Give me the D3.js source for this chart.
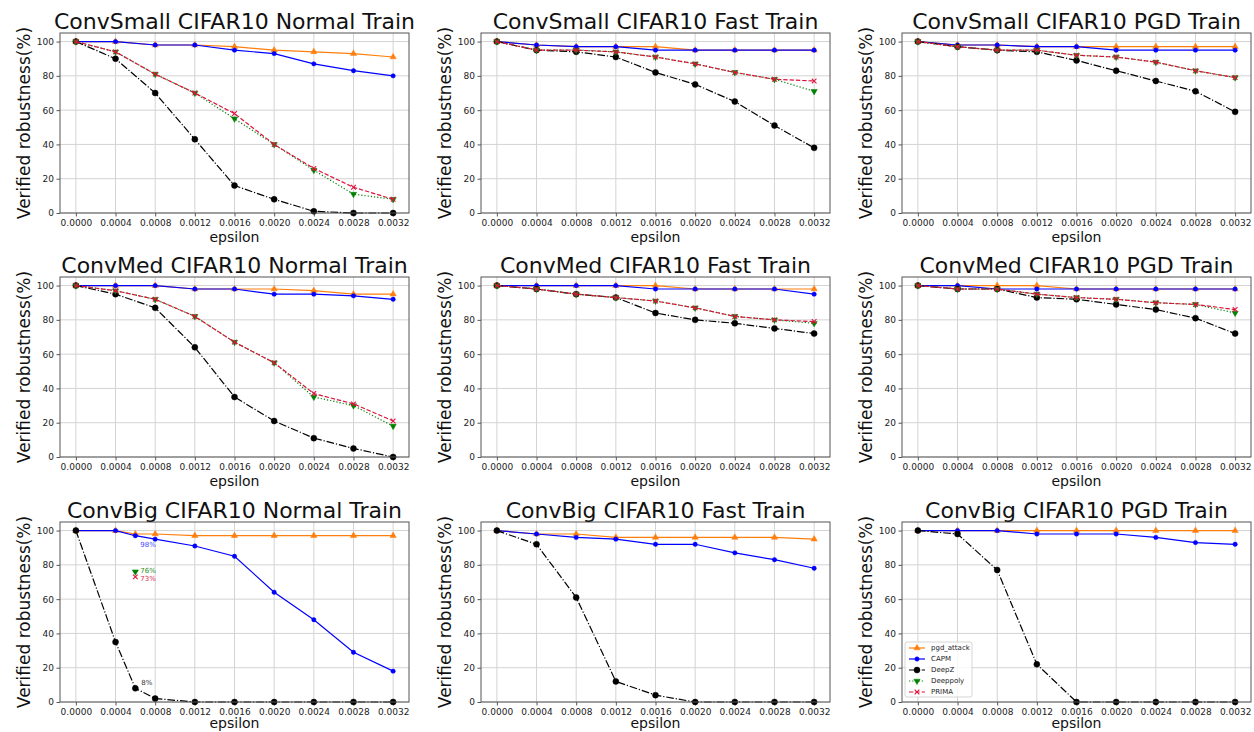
<!DOCTYPE html>
<html>
<head>
<meta charset="utf-8">
<script src="https://cdn.jsdelivr.net/npm/d3@7"></script>
<style>
  body { margin: 0; background: #fff; }
  svg { display: block; font-family: 'DejaVu Sans', sans-serif; }
</style>
</head>
<body>
<svg class="stage" width="1254" height="732"></svg>
<script>
var epsilons = [0, 0.0004, 0.0008, 0.0012, 0.0016, 0.0020, 0.0024, 0.0028, 0.0032];
// ConvBig normal train has one extra point at 0.0006
var epsilonsBigNormal = [0, 0.0004, 0.0006, 0.0008, 0.0012, 0.0016, 0.0020, 0.0024, 0.0028, 0.0032];
var xTickLabels = ['0.0000', '0.0004', '0.0008', '0.0012', '0.0016', '0.0020', '0.0024', '0.0028', '0.0032'];
var yTicks = [0, 20, 40, 60, 80, 100];
var methods = ['pgd_attack', 'CAPM', 'DeepZ', 'Deeppoly', 'PRIMA'];

var titles = [
  'ConvSmall CIFAR10 Normal Train', 'ConvSmall CIFAR10 Fast Train', 'ConvSmall CIFAR10 PGD Train',
  'ConvMed CIFAR10 Normal Train', 'ConvMed CIFAR10 Fast Train', 'ConvMed CIFAR10 PGD Train',
  'ConvBig CIFAR10 Normal Train', 'ConvBig CIFAR10 Fast Train', 'ConvBig CIFAR10 PGD Train'
];

// one row per panel, same order as titles (null = not run)
var pgdAttack = [
  [100, 100, 98, 98, 97, 95, 94, 93, 91],
  [100, 98, 97, 97, 97, 95, 95, 95, 95],
  [100, 98, 98, 97, 97, 97, 97, 97, 97],
  [100, 100, 100, 98, 98, 98, 97, 95, 95],
  [100, 100, 100, 100, 100, 98, 98, 98, 98],
  [100, 100, 100, 100, 98, 98, 98, 98, 98],
  [100, 100, 98, 98, 97, 97, 97, 97, 97, 97],
  [100, 98, 98, 96, 96, 96, 96, 96, 95],
  [100, 100, 100, 100, 100, 100, 100, 100, 100]
];

var capm = [
  [100, 100, 98, 98, 95, 93, 87, 83, 80],
  [100, 98, 97, 97, 95, 95, 95, 95, 95],
  [100, 98, 98, 97, 97, 95, 95, 95, 95],
  [100, 100, 100, 98, 98, 95, 95, 94, 92],
  [100, 100, 100, 100, 98, 98, 98, 98, 95],
  [100, 100, 98, 98, 98, 98, 98, 98, 98],
  [100, 100, 97, 95, 91, 85, 64, 48, 29, 18],
  [100, 98, 96, 95, 92, 92, 87, 83, 78],
  [100, 100, 100, 98, 98, 98, 96, 93, 92]
];

var deepZ = [
  [100, 90, 70, 43, 16, 8, 1, 0, 0],
  [100, 95, 94, 91, 82, 75, 65, 51, 38],
  [100, 97, 95, 94, 89, 83, 77, 71, 59],
  [100, 95, 87, 64, 35, 21, 11, 5, 0],
  [100, 98, 95, 93, 84, 80, 78, 75, 72],
  [100, 98, 98, 93, 92, 89, 86, 81, 72],
  [100, 35, 8, 2, 0, 0, 0, 0, 0, 0],
  [100, 92, 61, 12, 4, 0, 0, 0, 0],
  [100, 98, 77, 22, 0, 0, 0, 0, 0]
];

var deeppoly = [
  [100, 94, 81, 70, 55, 40, 25, 11, 8],
  [100, 95, 95, 94, 91, 87, 82, 78, 71],
  [100, 97, 95, 95, 92, 91, 88, 83, 79],
  [100, 97, 92, 82, 67, 55, 35, 30, 18],
  [100, 98, 95, 93, 91, 87, 82, 80, 78],
  [100, 98, 98, 95, 93, 92, 90, 89, 84],
  [null, null, 76, null, null, null, null, null, null, null],
  null,
  null
];

var prima = [
  [100, 94, 81, 70, 58, 40, 26, 15, 8],
  [100, 95, 95, 94, 91, 87, 82, 78, 77],
  [100, 97, 95, 95, 92, 91, 88, 83, 79],
  [100, 97, 92, 82, 67, 55, 37, 31, 21],
  [100, 98, 95, 93, 91, 87, 82, 80, 79],
  [100, 98, 98, 95, 93, 92, 90, 89, 86],
  [null, null, 73, null, null, null, null, null, null, null],
  null,
  null
];

// text labels on the ConvBig normal train panel
var noteLabels = ['98%', '76%', '73%', '8%'];
var noteEps = [0.00065, 0.00065, 0.00065, 0.00066];
var noteValues = [91.5, 76.5, 71.8, 11];
var noteMethods = ['CAPM', 'Deeppoly', 'PRIMA', 'DeepZ'];

(function () {
  var svg = d3.select('svg.stage');

  var series = {
    pgd_attack: pgdAttack,
    CAPM: capm,
    DeepZ: deepZ,
    Deeppoly: deeppoly,
    PRIMA: prima
  };

  var styles = {
    pgd_attack: { color: '#ff7f0e', dash: null, symbol: d3.symbolTriangle, size: 17, rotate: 0, fill: true },
    CAPM: { color: '#0000ff', dash: null, symbol: d3.symbolCircle, size: 15, rotate: 0, fill: true },
    DeepZ: { color: '#000000', dash: '7.7,1.9,1.2,1.9', symbol: d3.symbolCircle, size: 28, rotate: 0, fill: true },
    Deeppoly: { color: '#008000', dash: '1.2,2', symbol: d3.symbolTriangle, size: 17, rotate: 180, fill: true },
    PRIMA: { color: '#dc143c', dash: '4.4,1.9', symbol: d3.symbolTimes, size: 16, rotate: 0, fill: false }
  };

  var noteColors = { CAPM: '#4a4aff', Deeppoly: '#1f8f1f', PRIMA: '#dc3050', DeepZ: '#333333' };

  var colLefts = [60, 481, 902];
  var rowTops = [33, 277, 522];
  var axW = 349;
  var axH = 180;

  svg.append('rect').attr('width', 1254).attr('height', 732).attr('fill', '#fff');

  function drawMarker(sel, method) {
    var st = styles[method];
    sel.append('path')
      .attr('d', d3.symbol().type(st.symbol).size(st.size)())
      .attr('transform', function (d) {
        return 'translate(' + d[0] + ',' + d[1] + ')' + (st.rotate ? ' rotate(' + st.rotate + ')' : '');
      })
      .attr('fill', st.fill ? st.color : 'none')
      .attr('stroke', st.color)
      .attr('stroke-width', st.fill ? 0.5 : 1.1);
  }

  function drawPanel(i) {
    var col = i % 3;
    var row = Math.floor(i / 3);
    var left = colLefts[col];
    var top = rowTops[row];
    var xs = i === 6 ? epsilonsBigNormal : epsilons;

    var x = d3.scaleLinear().domain([-0.00016, 0.00336]).range([0, axW]);
    var y = d3.scaleLinear().domain([0, 105]).range([axH, 0]);

    var g = svg.append('g').attr('transform', 'translate(' + left + ',' + top + ')');

    // grid
    g.append('g').selectAll('line').data(epsilons).enter().append('line')
      .attr('x1', function (d) { return x(d); })
      .attr('x2', function (d) { return x(d); })
      .attr('y1', 0).attr('y2', axH)
      .attr('stroke', '#d3d3d3').attr('stroke-width', 1);
    g.append('g').selectAll('line').data(yTicks).enter().append('line')
      .attr('y1', function (d) { return y(d); })
      .attr('y2', function (d) { return y(d); })
      .attr('x1', 0).attr('x2', axW)
      .attr('stroke', '#d3d3d3').attr('stroke-width', 1);

    // axes
    var xAxis = g.append('g')
      .attr('transform', 'translate(0,' + axH + ')')
      .call(d3.axisBottom(x).tickValues(epsilons)
        .tickFormat(function (d, k) { return xTickLabels[k]; })
        .tickSize(3.5).tickSizeOuter(0).tickPadding(2.8));
    var yAxis = g.append('g')
      .call(d3.axisLeft(y).tickValues(yTicks)
        .tickSize(3.5).tickSizeOuter(0).tickPadding(2.5));
    [xAxis, yAxis].forEach(function (a) {
      a.select('.domain').remove();
      a.selectAll('line').attr('stroke', '#555');
      a.selectAll('text').attr('fill', '#222').style('font-size', '9px')
        .style('font-family', "'DejaVu Sans', sans-serif");
    });

    // series
    methods.forEach(function (method) {
      var vals = series[method][i];
      if (!vals) {
        return;
      }
      var st = styles[method];
      var pts = [];
      vals.forEach(function (v, k) {
        if (v !== null) {
          pts.push([x(xs[k]), y(v)]);
        }
      });
      var line = d3.line();
      g.append('path')
        .attr('d', line(pts))
        .attr('fill', 'none')
        .attr('stroke', st.color)
        .attr('stroke-width', 1.2)
        .attr('stroke-dasharray', st.dash);
      var m = g.append('g').selectAll('g').data(pts).enter().append('g');
      drawMarker(m, method);
    });

    // frame
    g.append('rect')
      .attr('width', axW).attr('height', axH)
      .attr('fill', 'none').attr('stroke', '#555').attr('stroke-width', 1);

    g.append('text')
      .attr('x', axW / 2).attr('y', -4)
      .attr('text-anchor', 'middle')
      .style('font-size', '22px')
      .attr('fill', '#111')
      .text(titles[i]);

    g.append('text')
      .attr('transform', 'translate(-36,' + (axH / 2) + ') rotate(-90)')
      .attr('text-anchor', 'middle')
      .attr('dominant-baseline', 'central')
      .style('font-size', '17px')
      .attr('fill', '#111')
      .text('Verified robustness(%)');

    // bottom row sits on the page edge, so lift it a little
    g.append('text')
      .attr('x', axW / 2).attr('y', axH + (row === 2 ? 21 : 24))
      .attr('text-anchor', 'middle')
      .attr('dominant-baseline', 'central')
      .style('font-size', '14px')
      .attr('fill', '#111')
      .text('epsilon');

    if (i === 6) {
      noteLabels.forEach(function (label, k) {
        g.append('text')
          .attr('x', x(noteEps[k])).attr('y', y(noteValues[k]))
          .attr('dominant-baseline', 'central')
          .style('font-size', '7px')
          .attr('fill', noteColors[noteMethods[k]])
          .text(label);
      });
    }

    if (i === 8) {
      var lg = g.append('g').attr('transform', 'translate(3,' + (axH - 60) + ')');
      lg.append('rect')
        .attr('width', 67).attr('height', 55).attr('rx', 2)
        .attr('fill', '#fff').attr('fill-opacity', 0.8)
        .attr('stroke', '#cccccc').attr('stroke-width', 0.8);
      methods.forEach(function (method, k) {
        var st = styles[method];
        var ly = 6 + k * 11;
        lg.append('line')
          .attr('x1', 4).attr('x2', 20).attr('y1', ly).attr('y2', ly)
          .attr('stroke', st.color).attr('stroke-width', 1.2)
          .attr('stroke-dasharray', st.dash);
        var m = lg.append('g').selectAll('g').data([[12, ly]]).enter().append('g');
        drawMarker(m, method);
        lg.append('text')
          .attr('x', 26).attr('y', ly)
          .attr('dominant-baseline', 'central')
          .style('font-size', '7px')
          .attr('fill', '#222')
          .text(method);
      });
    }
  }

  for (var i = 0; i < titles.length; i++) {
    drawPanel(i);
  }
})();
</script>
</body>
</html>
